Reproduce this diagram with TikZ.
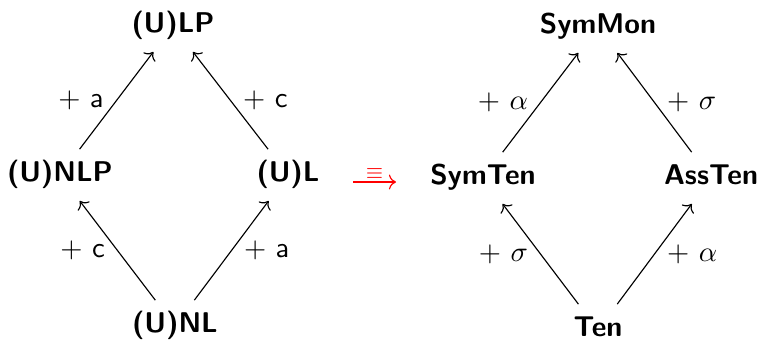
\documentclass[tikz,border=0pt]{standalone}
\usepackage{amsmath}
\usetikzlibrary{arrows.meta}
\begin{document}
\begin{tikzpicture}[x=0.35pt,y=-0.35pt,
  obj/.style={font=\sffamily\bfseries, text height=7pt, text depth=2.5pt, inner sep=4.1pt},
  mor/.style={->, line width=0.4pt},
  lblL/.style={midway, anchor=east, inner sep=0pt, xshift=-4.2pt},
  lblR/.style={midway, anchor=west, inner sep=0pt, xshift=4.2pt}]
\path[use as bounding box] (0,0) rectangle (760,340);
% left diamond
\node[obj] (LP)  at (173,26)  {(U)LP};
\node[obj] (NLP) at (60,175)  {(U)NLP};
\node[obj] (L)   at (288,175) {(U)L};
\node[obj] (NL)  at (175,326) {(U)NL};
\draw[mor] (NL) -- (NLP) node[lblL] {$+\ \mathsf{c}$};
\draw[mor] (NL) -- (L)   node[lblR] {$+\ \mathsf{a}$};
\draw[mor] (NLP) -- (LP) node[lblL] {$+\ \mathsf{a}$};
\draw[mor] (L) -- (LP)   node[lblR] {$+\ \mathsf{c}$};
% equivalence arrow
\coordinate (eqa) at (353,182);
\coordinate (eqb) at (396,182);
\draw[mor, red] (eqa) -- (eqb) node[midway, above=1pt, inner sep=0pt, font=\scriptsize] {$\equiv$};
% right diamond
\node[obj] (SM) at (598,27)  {SymMon};
\node[obj] (ST) at (483,178) {SymTen};
\node[obj] (AT) at (711,178) {AssTen};
\node[obj] (T)  at (598,330) {Ten};
\draw[mor] (T) -- (ST)  node[lblL] {$+\ \sigma$};
\draw[mor] (T) -- (AT)  node[lblR] {$+\ \alpha$};
\draw[mor] (ST) -- (SM) node[lblL] {$+\ \alpha$};
\draw[mor] (AT) -- (SM) node[lblR] {$+\ \sigma$};
\end{tikzpicture}
\end{document}
